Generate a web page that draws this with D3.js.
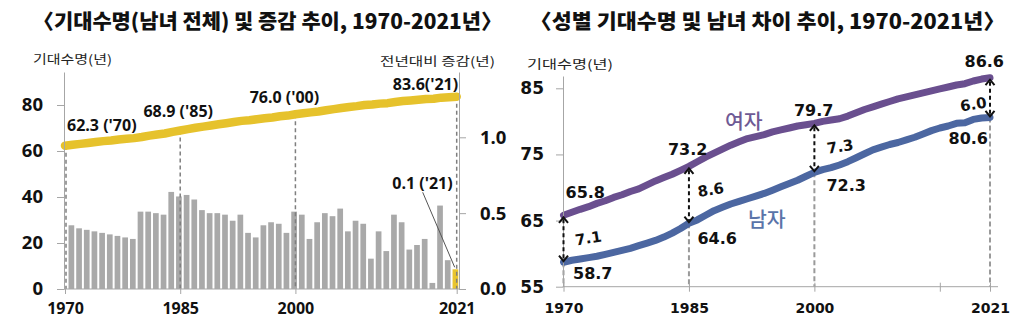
<!DOCTYPE html>
<html><head><meta charset="utf-8">
<script src="https://cdn.jsdelivr.net/npm/d3@7"></script>
<style>body{margin:0;background:#fff}svg{display:block}</style>
</head><body>
<svg id="c" width="1024" height="323"></svg>
<script>
// ---------- DATA ----------
const years = d3.range(1970, 2022);            // 1970..2021
const barYears = d3.range(1971, 2022);         // 1971..2021
const totalLife = [62.3,62.7,63.1,63.5,63.9,64.3,64.6,65.0,65.3,65.6,
  66.1,66.7,67.2,67.6,68.3,68.9,69.5,70.1,70.6,71.1,
  71.6,72.1,72.6,73.1,73.4,73.8,74.2,74.6,75.1,75.4,
  76.0,76.4,76.8,77.2,77.7,78.2,78.7,79.1,79.5,80.0,
  80.2,80.6,80.8,81.3,81.7,82.0,82.3,82.6,82.7,83.2,
  83.4,83.6];
const yearChange = [0.42,0.40,0.39,0.38,0.37,0.36,0.35,0.34,0.33,
  0.51,0.51,0.50,0.49,0.64,0.61,0.62,0.59,0.52,0.50,0.50,0.49,0.45,0.49,0.37,0.34,
  0.42,0.44,0.43,0.37,0.51,0.49,0.33,0.44,0.50,0.48,
  0.53,0.38,0.45,0.43,0.20,0.38,0.25,0.49,0.44,0.26,0.29,0.33,0.04,0.55,0.19,0.13];
const femaleLife = [65.8,66.25,66.7,67.1,67.6,68.0,68.5,68.9,69.4,69.8,
  70.4,71.0,71.5,72.0,72.6,73.2,73.9,74.6,75.2,75.8,
  76.4,76.9,77.4,77.7,78.0,78.4,78.7,79.0,79.3,79.5,
  79.7,80.0,80.2,80.4,80.8,81.3,81.8,82.2,82.6,83.0,
  83.4,83.7,84.0,84.3,84.6,84.9,85.2,85.5,85.7,86.1,
  86.4,86.6];
const maleLife = [58.7,59.0,59.2,59.4,59.6,59.9,60.2,60.5,60.8,61.2,
  61.6,62.0,62.5,63.1,63.8,64.6,65.1,65.8,66.5,67.0,
  67.5,67.9,68.3,68.7,69.1,69.6,70.1,70.6,71.1,71.7,
  72.3,72.7,73.0,73.4,73.9,74.5,75.1,75.7,76.1,76.5,
  76.8,77.2,77.6,78.1,78.6,79.0,79.3,79.7,79.8,80.3,
  80.5,80.6];
const markYears = [1970, 1985, 2000, 2021];
const leftTicks = [0, 20, 40, 60, 80];
const rightTicks = [0.0, 0.5, 1.0];
const sexTicks = [55, 65, 75, 85];
const sexXTicks = [1970, 1985, 2000, 2015, 2021];
const sexXLabels = ["1970", "1985", "2000", "", "2021"];
const totalLabels = ["62.3 ('70)", "68.9 ('85)", "76.0 ('00)", "83.6('21)"];
const lastChangeLabel = "0.1 ('21)";
const femaleLabels = ["65.8", "73.2", "79.7", "86.6"];
const maleLabels = ["58.7", "64.6", "72.3", "80.6"];
const gapLabels = ["7.1", "8.6", "7.3", "6.0"];
const titles = ["〈기대수명(남녀 전체) 및 증감 추이, 1970-2021년〉", "〈성별 기대수명 및 남녀 차이 추이, 1970-2021년〉"];

// ---------- SETUP ----------
const svg = d3.select("#c");
const KR = "'Noto Sans CJK KR','Noto Sans',sans-serif";
const OS = "'Open Sans','Noto Sans',sans-serif";
const DV = "'DejaVu Sans',Verdana,sans-serif";
const AX = "#a6a6a6";

// titles
svg.append("text").attr("x", 33).attr("y", 29).text(titles[0])
  .attr("font-family", KR).attr("font-weight", 900).attr("font-size", 20.5).attr("fill", "#111")
  .attr("textLength", 469).attr("lengthAdjust", "spacingAndGlyphs");
svg.append("text").attr("x", 530).attr("y", 29).text(titles[1])
  .attr("font-family", KR).attr("font-weight", 900).attr("font-size", 20.5).attr("fill", "#111")
  .attr("textLength", 475).attr("lengthAdjust", "spacingAndGlyphs");

// ================= LEFT CHART =================
const xL = d3.scaleLinear().domain([1970, 2021]).range([65, 456.7]);
const yL = d3.scaleLinear().domain([0, 94.35]).range([289, 72]);
const yR = d3.scaleLinear().domain([0, 1.4305]).range([289, 72]);
const leftAxisX = 64, rightAxisX = 459, baseY = 289;
const gL = svg.append("g");

svg.append("text").attr("x", 33).attr("y", 64).text("기대수명(년)")
  .attr("font-family", KR).attr("font-size", 12.5).attr("fill", "#222")
  .attr("textLength", 79).attr("lengthAdjust", "spacingAndGlyphs");
svg.append("text").attr("x", 380).attr("y", 66).text("전년대비 증감(년)")
  .attr("font-family", KR).attr("font-size", 12.5).attr("fill", "#222")
  .attr("textLength", 115).attr("lengthAdjust", "spacingAndGlyphs");

// bars
const bw = 5.7;
gL.selectAll("rect.bar").data(barYears).join("rect")
  .attr("x", (d) => xL(d) - 1.3 - bw / 2)
  .attr("width", bw)
  .attr("y", (d, i) => yR(yearChange[i]))
  .attr("height", (d, i) => baseY - yR(yearChange[i]))
  .attr("fill", (d, i) => i === barYears.length - 1 ? "#e9c52f" : "#a9a9a9");

// dashed verticals
gL.selectAll("line.dv").data(markYears).join("line")
  .attr("x1", (d) => xL(d) + (d === 1970 ? 1 : 0)).attr("x2", (d) => xL(d) + (d === 1970 ? 1 : 0))
  .attr("y1", (d) => yL(totalLife[d - 1970])).attr("y2", baseY)
  .attr("stroke", "#7f7f7f").attr("stroke-width", 1.5).attr("stroke-dasharray", "4,3");

// yellow line
gL.append("path").datum(years)
  .attr("d", d3.line().x((d) => xL(d)).y((d, i) => yL(totalLife[i])))
  .attr("fill", "none").attr("stroke", "#e6c22c").attr("stroke-width", 8.5)
  .attr("stroke-linecap", "round").attr("stroke-linejoin", "round");

// axes
const axL = gL.append("g").attr("transform", `translate(${leftAxisX},0)`)
  .call(d3.axisLeft(yL).tickValues(leftTicks).tickSize(7).tickSizeOuter(0).tickPadding(14));
const axR = gL.append("g").attr("transform", `translate(${rightAxisX},0)`)
  .call(d3.axisRight(yR).tickValues(rightTicks).tickFormat(d3.format(".1f")).tickSize(7).tickSizeOuter(0).tickPadding(14));
const axB = gL.append("g").attr("transform", `translate(0,${baseY})`)
  .call(d3.axisBottom(xL).tickValues(markYears).tickFormat(d3.format("d")).tickSize(5).tickSizeOuter(0));
axB.select(".domain").remove();
gL.append("line").attr("x1", leftAxisX).attr("x2", rightAxisX).attr("y1", baseY).attr("y2", baseY)
  .attr("stroke", AX);
[axL, axR, axB].forEach((a) => {
  a.selectAll(".domain").attr("stroke", AX);
  a.selectAll(".tick line").attr("stroke", AX);
  a.selectAll("text").attr("font-family", OS).attr("font-weight", 700).attr("fill", "#111");
});
axL.selectAll("text").attr("font-size", 18.5);
axR.selectAll("text").attr("font-size", 18.5);
axB.selectAll("text").attr("font-size", 16).attr("y", 19).attr("dy", "0.35em");

// labels on yellow line
const tlOff = [[2, -20, "start"], [-2, -19, "middle"], [-11, -16.5, "middle"], [1.5, -12, "end"]];
markYears.forEach((yr, i) => {
  gL.append("text").text(totalLabels[i])
    .attr("x", xL(yr) + tlOff[i][0]).attr("y", yL(totalLife[yr - 1970]) + tlOff[i][1])
    .attr("dy", "0.35em").attr("text-anchor", tlOff[i][2])
    .attr("font-family", OS).attr("font-weight", 700).attr("font-size", 16).attr("fill", "#111");
});
// last bar label + leader
const lastV = yearChange[yearChange.length - 1];
gL.append("text").text(lastChangeLabel)
  .attr("x", xL(2021) - 4).attr("y", yR(lastV) - 86).attr("dy", "0.35em").attr("text-anchor", "end")
  .attr("font-family", OS).attr("font-weight", 700).attr("font-size", 16).attr("fill", "#111");
gL.append("line").attr("x1", xL(2021) - 34).attr("y1", yR(lastV) - 77)
  .attr("x2", xL(2021) - 2).attr("y2", yR(lastV) - 2).attr("stroke", "#555").attr("stroke-width", 1);

// ================= RIGHT CHART =================
const xS = d3.scaleLinear().domain([1970, 2021]).range([563.5, 990]);
const yS = d3.scaleLinear().domain([55, 86.86]).range([286.7, 76]);
const sAxisX = 563, sBaseY = 286.7, sRightEnd = 998;
const gR = svg.append("g");

svg.append("text").attr("x", 527).attr("y", 69).text("기대수명(년)")
  .attr("font-family", KR).attr("font-size", 12.5).attr("fill", "#222")
  .attr("textLength", 86).attr("lengthAdjust", "spacingAndGlyphs");

// gray dashed verticals (from male line to axis)
gR.selectAll("line.dv").data(markYears).join("line")
  .attr("x1", (d) => xS(d)).attr("x2", (d) => xS(d))
  .attr("y1", (d) => yS(maleLife[d - 1970])).attr("y2", sBaseY)
  .attr("stroke", "#9a9a9a").attr("stroke-width", 2).attr("stroke-dasharray", "5,3");

// lines
gR.append("path").datum(years)
  .attr("d", d3.line().x((d) => xS(d)).y((d, i) => yS(femaleLife[i])))
  .attr("fill", "none").attr("stroke", "#6a4f8f").attr("stroke-width", 7)
  .attr("stroke-linecap", "round").attr("stroke-linejoin", "round");
gR.append("path").datum(years)
  .attr("d", d3.line().x((d) => xS(d)).y((d, i) => yS(maleLife[i])))
  .attr("fill", "none").attr("stroke", "#4c67a1").attr("stroke-width", 7)
  .attr("stroke-linecap", "round").attr("stroke-linejoin", "round");

// axes
const sAxL = gR.append("g").attr("transform", `translate(${sAxisX},0)`)
  .call(d3.axisLeft(yS).tickValues(sexTicks).tickSize(7).tickSizeOuter(0).tickPadding(12));
const sAxB = gR.append("g").attr("transform", `translate(0,${sBaseY})`)
  .call(d3.axisBottom(xS).tickValues(sexXTicks).tickFormat((d, i) => sexXLabels[i]).tickSize(5).tickSizeOuter(0));
sAxB.select(".domain").remove();
gR.append("line").attr("x1", sAxisX).attr("x2", sRightEnd).attr("y1", sBaseY).attr("y2", sBaseY).attr("stroke", AX);
sAxB.selectAll(".tick line").attr("y1", -4);
[sAxL, sAxB].forEach((a) => {
  a.selectAll(".domain").attr("stroke", AX);
  a.selectAll(".tick line").attr("stroke", AX);
  a.selectAll("text").attr("font-family", DV).attr("font-weight", 700).attr("fill", "#111");
});
sAxL.selectAll("text").attr("font-size", 17);
sAxB.selectAll("text").attr("font-size", 14).attr("y", 21).attr("dy", "0.35em");

// gap arrows
function chevron(g, x, y, dir) {
  g.append("path").attr("d", `M${x - 4.5},${y + dir * 5.5}L${x},${y}L${x + 4.5},${y + dir * 5.5}`)
    .attr("fill", "none").attr("stroke", "#111").attr("stroke-width", 2);
}
markYears.forEach((yr, i) => {
  const x = xS(yr), y1 = yS(femaleLife[yr - 1970]) + 2, y2 = yS(maleLife[yr - 1970]) - 1;
  gR.append("line").attr("x1", x).attr("x2", x).attr("y1", y1 + 2).attr("y2", y2 - 2)
    .attr("stroke", "#111").attr("stroke-width", 2).attr("stroke-dasharray", "4,3");
  chevron(gR, x, y1, 1);
  chevron(gR, x, y2, -1);
});

// value labels
const fOff = [[2, -22.5], [-21, -16.5], [-20.5, -13.4], [-25.5, -16]];
const mOff = [[9.5, 11.5], [8.5, 15], [12, 12.7], [-41.5, 21.5]];
const gOff = [[11.5, 23], [8.5, 23.5], [12.5, 23.3], [-30, 26.6]];
markYears.forEach((yr, i) => {
  const x = xS(yr), yf = yS(femaleLife[yr - 1970]), ym = yS(maleLife[yr - 1970]);
  gR.append("text").text(femaleLabels[i]).attr("x", x + fOff[i][0]).attr("y", yf + fOff[i][1]).attr("dy", "0.35em")
    .attr("font-family", DV).attr("font-weight", 700).attr("font-size", 16).attr("fill", "#111");
  gR.append("text").text(maleLabels[i]).attr("x", x + mOff[i][0]).attr("y", ym + mOff[i][1]).attr("dy", "0.35em")
    .attr("font-family", DV).attr("font-weight", 700).attr("font-size", 16).attr("fill", "#111");
  const gx = x + gOff[i][0], gy = yf + gOff[i][1];
  gR.append("text").text(gapLabels[i]).attr("x", gx).attr("y", gy).attr("dy", "0.35em")
    .attr("transform", `rotate(-9,${gx + 13},${gy})`)
    .attr("font-family", DV).attr("font-weight", 700).attr("font-size", 15).attr("fill", "#111");
});

// series names
svg.append("text").text("여자").attr("x", 725).attr("y", 121.7).attr("dy", "0.35em")
  .attr("font-family", KR).attr("font-weight", 500).attr("font-size", 20.5).attr("fill", "#6f5a95");
svg.append("text").text("남자").attr("x", 748).attr("y", 220).attr("dy", "0.35em")
  .attr("font-family", KR).attr("font-weight", 500).attr("font-size", 20.5).attr("fill", "#5a74a9");
</script>
</body></html>
